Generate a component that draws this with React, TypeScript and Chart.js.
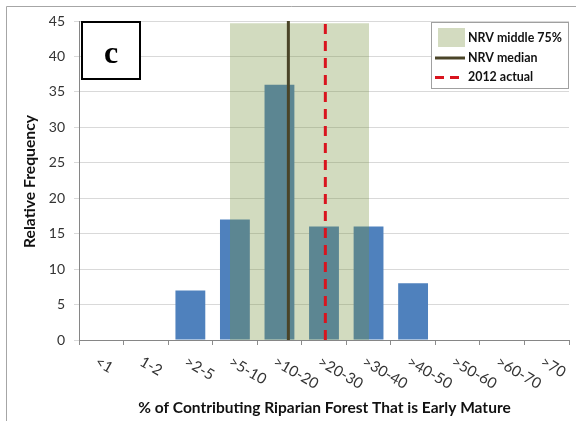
import React, { useEffect, useRef } from "react";
import { Chart, registerables } from "chart.js";

Chart.register(...registerables);

const categories = ["<1", "1-2", ">2-5", ">5-10", ">10-20", ">20-30", ">30-40", ">40-50", ">50-60", ">60-70", ">70"];
const frequency = [null, null, 7, 17, 36, 16, 16, 8, null, null, null];
const yMax = 45;
const yStep = 5;
// overlay positions in category units (0 = left edge of first category)
const nrvRange = [3.39, 6.51];
const nrvTop = 44.7;
const nrvMedian = 4.7;
const actual2012 = 5.53;
const legendLabels = ["NRV middle 75%", "NRV median", "2012 actual"];
const panelLabel = "c";
const xTitle = "% of Contributing Riparian Forest That is Early Mature";
const yTitle = "Relative Frequency";

const SHADE = "rgba(119,147,60,0.33)";
const MEDIAN = "#4a4428";
const RED = "#d9141e";
const BAR = "#4f81bd";
const FONT = "Lato, 'Open Sans', sans-serif";

function fitFont(ctx: CanvasRenderingContext2D, text: string, weight: string, family: string, target: number) {
  ctx.font = `${weight} 20px ${family}`;
  const w = ctx.measureText(text).width;
  return (20 * target) / w;
}

const overlayPlugin = {
  id: "overlay",
  beforeDraw(chart: any) {
    const ctx = chart.ctx as CanvasRenderingContext2D;
    ctx.save();
    ctx.fillStyle = "#ffffff";
    ctx.fillRect(0, 0, chart.width, chart.height);
    ctx.strokeStyle = "#a6a6a6";
    ctx.lineWidth = 1;
    ctx.beginPath();
    ctx.moveTo(6.5, chart.height);
    ctx.lineTo(6.5, 6.5);
    ctx.lineTo(chart.width, 6.5);
    ctx.stroke();
    ctx.restore();
  },
  afterDraw(chart: any) {
    const ctx = chart.ctx as CanvasRenderingContext2D;
    const xs = chart.scales.x;
    const area = chart.chartArea;
    ctx.save();
    // x tick labels, rotated clockwise
    ctx.fillStyle = "#333333";
    ctx.font = `15px ${FONT}`;
    ctx.textAlign = "left";
    ctx.textBaseline = "top";
    categories.forEach((lab, i) => {
      const cx = xs.getPixelForValue(i);
      ctx.save();
      ctx.translate(cx - 1, area.bottom + 14);
      ctx.rotate((30 * Math.PI) / 180);
      ctx.fillText(lab, 0, 0);
      ctx.restore();
    });
    // x title
    const xs2 = fitFont(ctx, xTitle, "bold", FONT, 373);
    ctx.font = `bold ${xs2}px ${FONT}`;
    ctx.fillStyle = "#111111";
    ctx.textAlign = "center";
    ctx.textBaseline = "middle";
    ctx.fillText(xTitle, 324.5, 408);
    // y title
    const ys2 = fitFont(ctx, yTitle, "bold", FONT, 133);
    ctx.save();
    ctx.translate(30, 181.5);
    ctx.rotate(-Math.PI / 2);
    ctx.font = `bold ${ys2}px ${FONT}`;
    ctx.fillText(yTitle, 0, 0);
    ctx.restore();

    // panel label box
    ctx.fillStyle = "#ffffff";
    ctx.fillRect(82, 22, 58, 57);
    ctx.strokeStyle = "#000000";
    ctx.lineWidth = 2;
    ctx.strokeRect(82, 22, 58, 57);
    ctx.fillStyle = "#000000";
    ctx.font = `bold 32px 'Liberation Serif', 'Times New Roman', serif`;
    ctx.textAlign = "center";
    ctx.textBaseline = "alphabetic";
    ctx.fillText(panelLabel, 111, 63);

    // legend
    ctx.fillStyle = "#ffffff";
    ctx.fillRect(431, 22, 138, 67);
    ctx.strokeStyle = "#a0a0a0";
    ctx.lineWidth = 1;
    ctx.strokeRect(431.5, 22.5, 137, 66);
    ctx.fillStyle = "rgb(211,219,192)";
    ctx.fillRect(438, 28, 27, 19);
    ctx.strokeStyle = MEDIAN;
    ctx.lineWidth = 3;
    ctx.beginPath();
    ctx.moveTo(435, 58);
    ctx.lineTo(465, 58);
    ctx.stroke();
    ctx.strokeStyle = RED;
    ctx.setLineDash([9, 6]);
    ctx.beginPath();
    ctx.moveTo(435, 77.5);
    ctx.lineTo(465, 77.5);
    ctx.stroke();
    ctx.setLineDash([]);
    const ls = fitFont(ctx, legendLabels[0], "bold", FONT, 94);
    ctx.font = `bold ${ls}px ${FONT}`;
    ctx.fillStyle = "#111111";
    ctx.textAlign = "left";
    ctx.textBaseline = "middle";
    ctx.fillText(legendLabels[0], 468, 38);
    ctx.fillText(legendLabels[1], 468, 58);
    ctx.fillText(legendLabels[2], 468, 77);
    ctx.restore();
  },
};

export default function App() {
  const ref = useRef<HTMLCanvasElement | null>(null);
  useEffect(() => {
    if (!ref.current) return;
    const chart = new Chart(ref.current, {
      type: "bar",
      data: {
        labels: categories,
        datasets: [
          {
            type: "line",
            label: legendLabels[2],
            data: [
              { x: actual2012, y: 0 },
              { x: actual2012, y: nrvTop },
            ],
            xAxisID: "xl",
            borderColor: RED,
            borderWidth: 3,
            borderDash: [10, 7],
            pointRadius: 0,
            fill: false,
            order: 0,
          } as any,
          {
            type: "line",
            label: legendLabels[1],
            data: [
              { x: nrvMedian, y: 0 },
              { x: nrvMedian, y: yMax },
            ],
            xAxisID: "xl",
            borderColor: MEDIAN,
            borderWidth: 3,
            pointRadius: 0,
            fill: false,
            order: 1,
          } as any,
          {
            type: "line",
            label: legendLabels[0],
            data: [
              { x: nrvRange[0], y: nrvTop },
              { x: nrvRange[1], y: nrvTop },
            ],
            xAxisID: "xl",
            borderWidth: 0,
            borderColor: "rgba(0,0,0,0)",
            backgroundColor: SHADE,
            pointRadius: 0,
            fill: "origin",
            order: 2,
          } as any,
          {
            type: "bar",
            label: "Frequency",
            data: frequency,
            xAxisID: "x",
            backgroundColor: BAR,
            borderWidth: 0,
            grouped: false,
            barPercentage: 0.67,
            categoryPercentage: 1,
            order: 3,
          } as any,
        ],
      },
      options: {
        animation: false,
        responsive: false,
        maintainAspectRatio: false,
        layout: { padding: { top: 21, right: 7, left: 0, bottom: 0 } },
        plugins: { legend: { display: false }, tooltip: { enabled: false } },
        scales: {
          x: {
            type: "category",
            offset: true,
            grid: { drawOnChartArea: false, drawTicks: true, tickLength: 5, color: "#8c8c8c", offset: true },
            border: { color: "#868686" },
            ticks: { display: false },
            afterFit: (s: any) => {
              s.height = 81;
            },
          },
          xl: {
            type: "linear",
            display: false,
            offset: false,
            grid: { offset: false },
            min: 0,
            max: categories.length,
          },
          y: {
            min: 0,
            max: yMax,
            ticks: { stepSize: yStep, padding: 9, color: "#333333", font: { family: FONT, size: 14 } },
            grid: { color: "#d9d9d9", tickLength: 5 },
            border: { color: "#868686" },
            afterFit: (s: any) => {
              s.width = 79;
            },
          },
        } as any,
      },
      plugins: [overlayPlugin],
    });
    return () => chart.destroy();
  }, []);
  return (
    <div style={{ position: "absolute", left: 0, top: 0, width: 576, height: 421 }}>
      <canvas ref={ref} width={576} height={421} />
    </div>
  );
}
